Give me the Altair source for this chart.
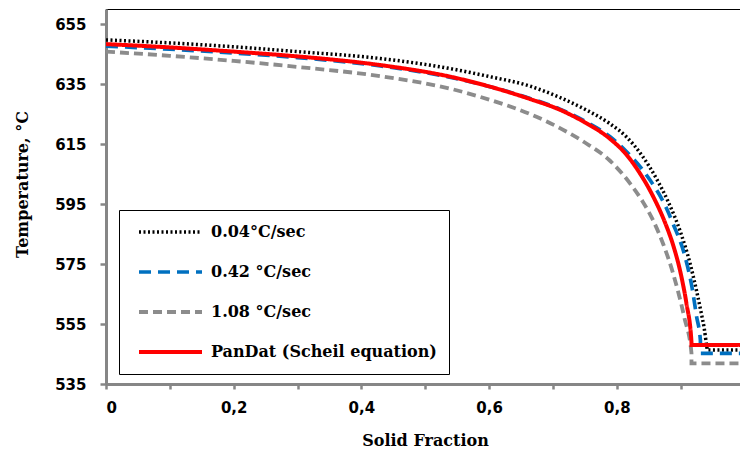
import altair as alt
import pandas as pd

# ---- data ----
series = ["0.04°C/sec", "0.42 °C/sec", "1.08 °C/sec", "PanDat (Scheil equation)"]
colors = ["#000000", "#0070C0", "#8C8C8C", "#FF0000"]
dashes = [[2, 2.5], [12, 7], [9, 5], [1, 0]]
widths = [3.5, 4, 4, 4]

x_004 = [0, 0.1, 0.2, 0.3, 0.43, 0.54, 0.6, 0.664, 0.711, 0.75, 0.789, 0.815, 0.84, 0.862, 0.88, 0.9, 0.915, 0.925, 0.932, 0.937, 0.941, 0.942, 1.0]
t_004 = [649.7, 648.7, 647.4, 645.8, 643.5, 640.1, 637.5, 634.3, 630.5, 626.6, 621.8, 617.4, 611.0, 603.5, 596.0, 585.5, 575.0, 566.0, 559.0, 553.5, 547.5, 546.3, 546.3]

x_042 = [0, 0.1, 0.2, 0.3, 0.43, 0.54, 0.6, 0.664, 0.711, 0.75, 0.789, 0.815, 0.847, 0.878, 0.888, 0.907, 0.918, 0.925, 0.931, 0.931, 1.0]
t_042 = [647.6, 646.6, 645.3, 643.8, 641.0, 637.2, 634.2, 630.2, 626.6, 622.6, 617.5, 612.5, 604.5, 593.5, 588.5, 577.4, 567.0, 557.5, 549.5, 545.2, 545.2]

x_108 = [0, 0.1, 0.2, 0.3, 0.43, 0.54, 0.6, 0.664, 0.711, 0.75, 0.789, 0.821, 0.84, 0.857, 0.873, 0.888, 0.906, 0.917, 0.917, 1.0]
t_108 = [645.8, 644.4, 642.7, 640.7, 637.6, 633.4, 629.8, 625.0, 620.3, 615.5, 609.5, 601.8, 596.0, 589.5, 581.5, 572.0, 557.0, 545.3, 541.9, 541.9]

x_pan = [0, 0.1, 0.2, 0.3, 0.43, 0.54, 0.6, 0.664, 0.711, 0.75, 0.789, 0.815, 0.836, 0.857, 0.878, 0.888, 0.902, 0.909, 0.917, 0.917, 1.0]
t_pan = [648.3, 647.2, 645.8, 644.2, 641.3, 637.4, 634.2, 630.0, 626.4, 622.2, 616.8, 611.5, 605.3, 597.5, 587.5, 581.5, 570.0, 562.0, 549.0, 548.0, 548.0]

x_ticks = [0, 0.1, 0.2, 0.3, 0.4, 0.5, 0.6, 0.7, 0.8, 0.9]
y_ticks = [535, 555, 575, 595, 615, 635, 655]

rows = []
for name, xs, ts in zip(series, [x_004, x_042, x_108, x_pan], [t_004, t_042, t_108, t_pan]):
    for i, (xv, tv) in enumerate(zip(xs, ts)):
        rows.append({"series": name, "x": xv, "t": tv, "i": i})
df = pd.DataFrame(rows)

legend_kw = dict(
    orient="none", legendX=13, legendY=201, title=None,
    symbolType="stroke", symbolSize=3969, symbolStrokeWidth=4, symbolOffset=6,
    clipHeight=20,
    labelFont="DejaVu Serif", labelFontSize=16, labelFontWeight="bold",
    labelColor="black", labelOffset=7, labelLimit=400, rowPadding=20, padding=12,
    strokeColor="black", fillColor="white", direction="vertical",
)

chart = alt.Chart(df).mark_line(clip=True, strokeCap="butt", interpolate="monotone").encode(
    x=alt.X("x:Q", title="Solid Fraction",
            scale=alt.Scale(domain=[0, 0.993], nice=False, zero=False),
            axis=alt.Axis(values=x_ticks, tickSize=5, labelPadding=11,
                          labelExpr="round(datum.value*10) % 2 == 0 ? (datum.value == 0 ? '0' : replace(format(datum.value, '.1f'), '.', ',')) : ''",
                          titleX=319, titleY=56, titleAlign="center", titleBaseline="middle")),
    y=alt.Y("t:Q", title="Temperature, °C",
            scale=alt.Scale(domain=[535, 660], nice=False, zero=False),
            axis=alt.Axis(values=y_ticks, tickSize=6, labelPadding=14,
                          titleX=-84, titleY=175, titleAlign="center", titleBaseline="middle", titleAngle=270)),
    color=alt.Color("series:N", scale=alt.Scale(domain=series, range=colors),
                    legend=alt.Legend(**legend_kw)),
    strokeDash=alt.StrokeDash("series:N", scale=alt.Scale(domain=series, range=dashes),
                              legend=alt.Legend(**legend_kw)),
    strokeWidth=alt.StrokeWidth("series:N", scale=alt.Scale(domain=series, range=widths), legend=None),
    order="i:Q",
).properties(
    width=634, height=375,
    autosize=alt.AutoSizeParams(type="none"),
    padding={"left": 106, "top": 9, "right": 0, "bottom": 68},
).configure_view(
    stroke="black", strokeWidth=1
).configure_axis(
    grid=False, domainColor="#868686", domainWidth=3, tickColor="#868686", tickWidth=2.5,
    labelFont="DejaVu Sans", labelFontWeight="bold", labelFontSize=15, labelColor="black",
    titleFont="DejaVu Serif", titleFontWeight="bold", titleFontSize=16, titleColor="black",
)

chart.save("out.html", embed_options={"renderer": "svg", "actions": False})
